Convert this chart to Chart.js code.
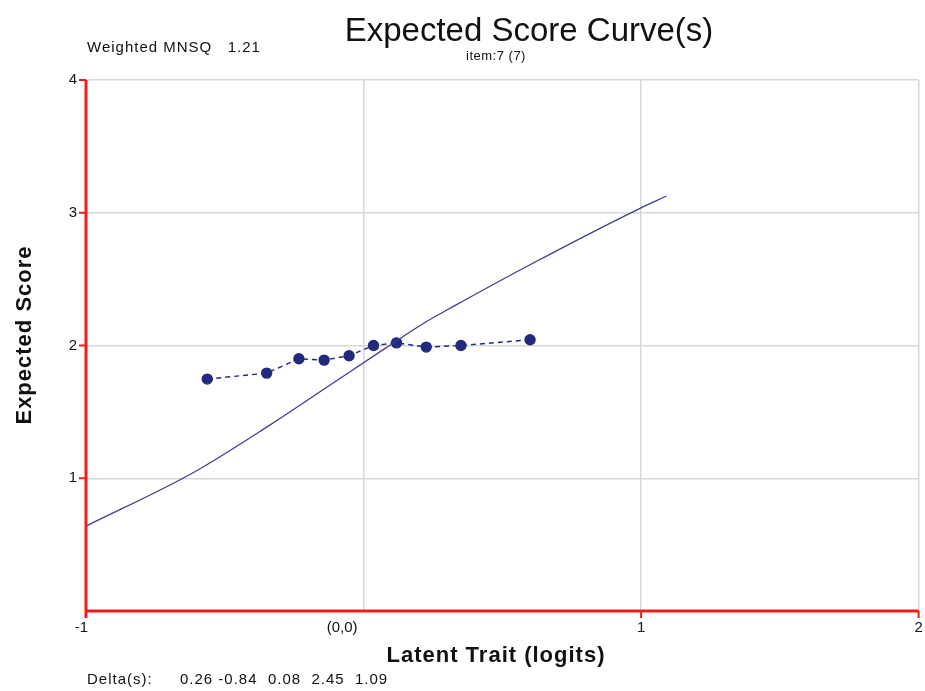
<!DOCTYPE html>
<html>
<head>
<meta charset="utf-8">
<script src="https://cdn.jsdelivr.net/npm/chart.js@4.4.0/dist/chart.umd.min.js"></script>
<style>
    html, body { margin: 0; padding: 0; background: #fff; }
    #wrap { width: 925px; height: 691px; }
</style>
</head>
<body>
<div id="wrap"><canvas id="scoreCurve" width="925" height="691"></canvas></div>
<script>
// model expected score curve
const curveX = [-1.0, -0.611, -0.335, -0.142, 0.079, 0.217, 0.327, 0.603, 0.989, 1.092];
const curveY = [0.639, 1.045, 1.404, 1.672, 1.98, 2.168, 2.298, 2.612, 3.026, 3.126];

// observed group averages
const observedX = [-0.563, -0.349, -0.233, -0.142, -0.052, 0.036, 0.119, 0.226, 0.351, 0.600];
const observedY = [1.747, 1.792, 1.900, 1.890, 1.923, 2.000, 2.020, 1.988, 2.000, 2.043];

const xTicks = [-1, 0, 1, 2];
const xTickLabels = ['-1', '(0,0)', '1', '2'];
const yTicks = [1, 2, 3, 4];
const yTickLabels = ['1', '2', '3', '4'];
const deltas = ['0.26', '-0.84', '0.08', '2.45', '1.09'];
const weightedMnsq = '1.21';
const itemLabel = 'item:7 (7)';

const RED = '#f01c1c';
const NAVY = '#232a7c';
const FONT = "'Liberation Sans', Arial, sans-serif";

const toPoints = (xs, ys) => xs.map((x, i) => ({ x: x, y: ys[i] }));

// axes, tick marks and all text are painted here
const decorations = {
    id: 'decorations',
    afterDraw(chart) {
        const ctx = chart.ctx;
        const area = chart.chartArea;
        const xs = chart.scales.x;
        const ys = chart.scales.y;
        ctx.save();

        // red axes
        ctx.strokeStyle = RED;
        ctx.lineWidth = 3;
        ctx.beginPath();
        ctx.moveTo(area.left, area.top);
        ctx.lineTo(area.left, area.bottom + 7);
        ctx.moveTo(area.left, area.bottom);
        ctx.lineTo(area.right, area.bottom);
        ctx.stroke();

        ctx.lineWidth = 2;
        ctx.beginPath();
        yTicks.forEach(v => {
            const py = ys.getPixelForValue(v);
            ctx.moveTo(area.left - 7, py);
            ctx.lineTo(area.left, py);
        });
        xTicks.forEach(v => {
            if (v === 0) return;
            const px = xs.getPixelForValue(v);
            ctx.moveTo(px, area.bottom);
            ctx.lineTo(px, area.bottom + 7);
        });
        ctx.stroke();

        ctx.fillStyle = '#111';
        ctx.textBaseline = 'middle';
        ctx.letterSpacing = '0px';

        // y tick labels
        ctx.font = '15px ' + FONT;
        ctx.textAlign = 'right';
        yTicks.forEach((v, i) => {
            ctx.fillText(yTickLabels[i], area.left - 9, ys.getPixelForValue(v));
        });

        // x tick labels
        xTicks.forEach((v, i) => {
            const px = xs.getPixelForValue(v);
            if (v === -1) { ctx.textAlign = 'right'; ctx.fillText(xTickLabels[i], px + 2, area.bottom + 17); }
            else if (v === 0) { ctx.textAlign = 'right'; ctx.fillText(xTickLabels[i], px - 6, area.bottom + 17); }
            else { ctx.textAlign = 'center'; ctx.fillText(xTickLabels[i], px, area.bottom + 17); }
        });

        // titles
        ctx.textBaseline = 'alphabetic';
        ctx.textAlign = 'center';
        ctx.font = '33px ' + FONT;
        ctx.fillText('Expected Score Curve(s)', 529, 41);
        ctx.font = '13px ' + FONT;
        ctx.letterSpacing = '0.5px';
        ctx.fillText(itemLabel, 496, 60);

        ctx.font = '15px ' + FONT;
        ctx.letterSpacing = '1px';
        ctx.textAlign = 'left';
        ctx.fillText('Weighted MNSQ   ' + weightedMnsq, 87, 52);
        ctx.fillText('Delta(s):', 87, 684);
        ctx.fillText(deltas.join('  ').replace('  -', ' -'), 180, 684);

        ctx.textAlign = 'center';
        ctx.font = 'bold 22px ' + FONT;
        ctx.fillText('Latent Trait (logits)', 496, 662);

        ctx.translate(31, 335);
        ctx.rotate(-Math.PI / 2);
        ctx.fillText('Expected Score', 0, 0);

        ctx.restore();
    }
};

new Chart(document.getElementById('scoreCurve').getContext('2d'), {
    type: 'scatter',
    data: {
        datasets: [
            {
                label: 'Expected',
                data: toPoints(curveX, curveY),
                showLine: true,
                borderColor: '#3e3e94',
                borderWidth: 1.3,
                pointRadius: 0,
                cubicInterpolationMode: 'monotone'
            },
            {
                label: 'Observed',
                data: toPoints(observedX, observedY),
                showLine: true,
                borderColor: NAVY,
                borderWidth: 1.4,
                borderDash: [5, 4],
                pointRadius: 5,
                pointBackgroundColor: NAVY,
                pointBorderColor: NAVY,
                tension: 0
            }
        ]
    },
    options: {
        responsive: false,
        animation: false,
        layout: { padding: { left: 86, right: 6, top: 80, bottom: 80 } },
        plugins: {
            legend: { display: false },
            tooltip: { enabled: false }
        },
        scales: {
            x: {
                type: 'linear',
                min: -1,
                max: 2,
                ticks: { display: false, stepSize: 1 },
                grid: { color: '#d8d8d8', lineWidth: 1.5, drawTicks: false },
                border: { display: false }
            },
            y: {
                type: 'linear',
                min: 0,
                max: 4,
                ticks: { display: false, stepSize: 1 },
                grid: { color: '#d8d8d8', lineWidth: 1.5, drawTicks: false },
                border: { display: false }
            }
        }
    },
    plugins: [decorations]
});
</script>
</body>
</html>
